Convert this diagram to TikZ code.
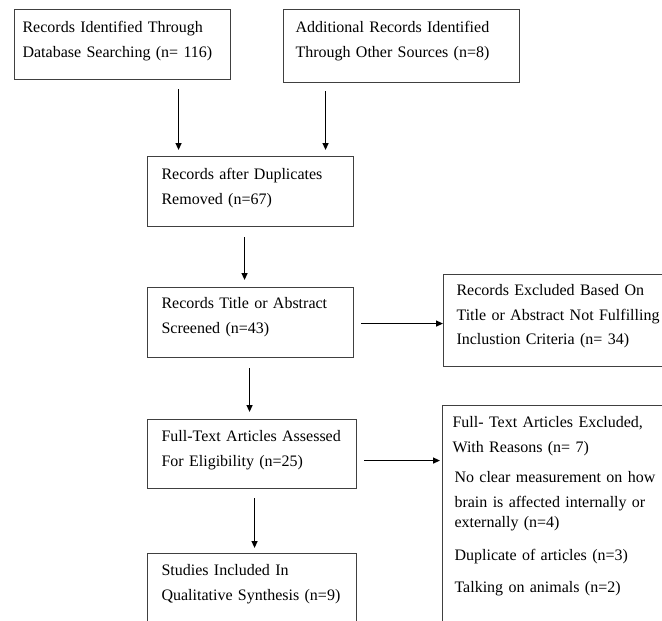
\documentclass[tikz,border=0pt]{standalone}
\usepackage{fontspec}
\setmainfont{Liberation Serif}
\usetikzlibrary{arrows.meta}

\begin{document}
\begin{tikzpicture}[
    x=1pt, y=-1pt,
    font=\fontsize{16}{24.5}\selectfont,
    box/.style={draw=black!75, line width=1.1pt, anchor=north west, align=left,
      inner ysep=0pt, text height=22pt},
    arr/.style={-{Triangle[length=7pt,width=6pt]}, line width=1.3pt},
  ]
  \useasboundingbox (0,0) rectangle (662,621);
  \clip (0,0) rectangle (662,621);

  % identification
  \node[box, inner xsep=8pt, text width=200pt, text height=23pt, text depth=47pt] (ident) at (14,9)
    {Records Identified Through\\Database Searching (n= 116)};
  \node[box, inner xsep=12pt, text width=212pt, text height=23pt, text depth=50pt] (other) at (283,9)
    {Additional Records Identified\\Through Other Sources (n=8)};

  % screening
  \node[box, inner xsep=14pt, text width=178pt, text height=23pt, text depth=47pt] (dupl) at (147,156)
    {Records after Duplicates\\Removed (n=67)};
  \node[box, inner xsep=14pt, text width=178pt, text height=21pt, text depth=49pt] (screen) at (147,287)
    {Records Title or Abstract\\Screened (n=43)};
  \node[box, inner xsep=13pt, text width=260pt, text height=21pt, text depth=71pt] (excl) at (443,274)
    {Records Excluded Based On\\Title or Abstract Not Fulfilling\\Inclustion Criteria (n= 34)};

  % eligibility
  \node[box, inner xsep=14pt, text width=181pt, text height=22pt, text depth=47pt] (assess) at (147,419)
    {Full-Text Articles Assessed\\For Eligibility (n=25)};
  \node[box, inner xsep=10pt, text width=260pt, text height=22pt, text depth=280pt] (fullexcl) at (442,405)
    {Full- Text Articles Excluded,\\With Reasons (n= 7)\\[6pt]
     \hspace{2pt}No clear measurement on how\\\hspace{2pt}brain is affected internally or\\[-4pt]
     \hspace{2pt}externally (n=4)\\[8pt]
     \hspace{2pt}Duplicate of articles (n=3)\\[8pt]
     \hspace{2pt}Talking on animals (n=2)};

  % included
  \node[box, inner xsep=14pt, text width=181pt, text height=22pt, text depth=70pt] (incl) at (147,553)
    {Studies Included In\\Qualitative Synthesis (n=9)};

  % arrows down
  \draw[arr, shorten <=9pt, shorten >=6pt] ([xshift=56pt]ident.south) -- ([xshift=56pt]ident.south |- dupl.north);
  \draw[arr, shorten <=8pt, shorten >=6pt] ([xshift=-76pt]other.south) -- ([xshift=-76pt]other.south |- dupl.north);
  \draw[arr, shorten <=10pt, shorten >=7pt] ([xshift=-6pt]dupl.south) -- ([xshift=-6pt]dupl.south |- screen.north);
  \draw[arr, shorten <=10pt, shorten >=7pt] ([xshift=-1pt]screen.south) -- ([xshift=-1pt]screen.south |- assess.north);
  \draw[arr, shorten <=9pt, shorten >=5pt] ([xshift=2.5pt]assess.south) -- ([xshift=2.5pt]assess.south |- incl.north);

  % arrows right
  \draw[arr, shorten <=7pt] ([yshift=-1pt]screen.east) -- ([yshift=-1pt]screen.east -| excl.west);
  \draw[arr, shorten <=7pt, shorten >=2pt] ([yshift=-6.5pt]assess.east) -- ([yshift=-6.5pt]assess.east -| fullexcl.west);

\end{tikzpicture}
\end{document}
